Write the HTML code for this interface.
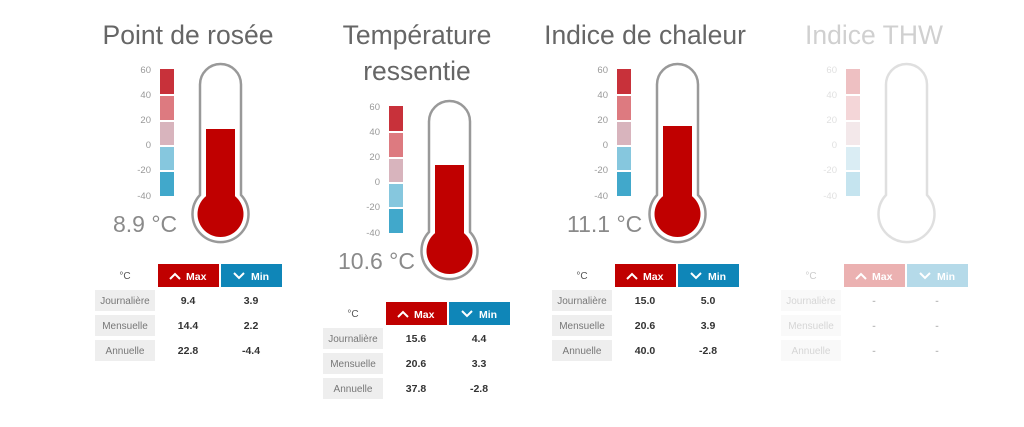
<!DOCTYPE html>
<html><head><meta charset="utf-8"><style>
html,body{margin:0;padding:0;background:#fff;}
svg{display:block;font-family:"Liberation Sans",Arial,sans-serif;}
.t{fill:#666;font-size:26.5px;text-anchor:middle;}
.ax{fill:#999;font-size:9.5px;text-anchor:end;}
.val{fill:#8a8a8a;font-size:23px;}
.lb{fill:#777;font-size:10px;text-anchor:middle;}
.num{fill:#333;font-size:10.5px;font-weight:bold;text-anchor:middle;}
.hd{fill:#fff;font-size:10.5px;font-weight:bold;}
.cu{fill:#555;font-size:10px;text-anchor:middle;}
</style></head><body>
<svg width="1024" height="427" viewBox="0 0 1024 427">

<!-- Panel 1 -->
<g>
<text class="t" x="188" y="44">Point de rosée</text>
<rect x="160" y="69" width="14" height="25" fill="#c8313a"/>
<rect x="160" y="96" width="14" height="24" fill="#dd7a80"/>
<rect x="160" y="122" width="14" height="23" fill="#d8b4bd"/>
<rect x="160" y="147" width="14" height="23" fill="#86c7de"/>
<rect x="160" y="172" width="14" height="24" fill="#41a8cb"/>
<text class="ax" x="151" y="73">60</text><text class="ax" x="151" y="98">40</text><text class="ax" x="151" y="123">20</text><text class="ax" x="151" y="148">0</text><text class="ax" x="151" y="173">-20</text><text class="ax" x="151" y="199">-40</text>
<path d="M200,84.5 A20.5,20.5 0 0 1 241,84.5 L241,195 A28,28 0 1 1 200,195 Z" fill="#fff" stroke="#999" stroke-width="2.5"/>
<rect x="206" y="129" width="29" height="90" fill="#c00000"/>
<circle cx="220.5" cy="214" r="23" fill="#c00000"/>
<text class="val" x="113" y="232">8.9 °C</text>
<text class="cu" x="125" y="279">°C</text>
<rect x="158" y="264" width="61" height="23" fill="#c00000"/>
<path d="M170,279 l5,-5 l5,5" stroke="#fff" stroke-width="2" fill="none"/>
<text class="hd" x="186" y="280">Max</text>
<rect x="221" y="264" width="61" height="23" fill="#0f86b8"/>
<path d="M234,273 l5,5 l5,-5" stroke="#fff" stroke-width="2" fill="none"/>
<text class="hd" x="251" y="280">Min</text>
<rect x="95" y="290" width="60" height="21" fill="#eee"/>
<rect x="95" y="315" width="60" height="21" fill="#eee"/>
<rect x="95" y="340" width="60" height="21" fill="#eee"/>
<text class="lb" x="125" y="304">Journalière</text><text class="lb" x="125" y="329">Mensuelle</text><text class="lb" x="125" y="354">Annuelle</text>
<text class="num" x="188" y="304">9.4</text><text class="num" x="251" y="304">3.9</text>
<text class="num" x="188" y="329">14.4</text><text class="num" x="251" y="329">2.2</text>
<text class="num" x="188" y="354">22.8</text><text class="num" x="251" y="354">-4.4</text>
</g>

<!-- Panel 2 -->
<g>
<text class="t" x="417" y="44">Température</text>
<text class="t" x="417" y="80">ressentie</text>
<g transform="translate(229,37)">
<rect x="160" y="69" width="14" height="25" fill="#c8313a"/>
<rect x="160" y="96" width="14" height="24" fill="#dd7a80"/>
<rect x="160" y="122" width="14" height="23" fill="#d8b4bd"/>
<rect x="160" y="147" width="14" height="23" fill="#86c7de"/>
<rect x="160" y="172" width="14" height="24" fill="#41a8cb"/>
<text class="ax" x="151" y="73">60</text><text class="ax" x="151" y="98">40</text><text class="ax" x="151" y="123">20</text><text class="ax" x="151" y="148">0</text><text class="ax" x="151" y="173">-20</text><text class="ax" x="151" y="199">-40</text>
<path d="M200,84.5 A20.5,20.5 0 0 1 241,84.5 L241,195 A28,28 0 1 1 200,195 Z" fill="#fff" stroke="#999" stroke-width="2.5"/>
<rect x="206" y="128" width="29" height="90" fill="#c00000"/>
<circle cx="220.5" cy="214" r="23" fill="#c00000"/>
<text class="val" x="109" y="232">10.6 °C</text>
</g>
<g transform="translate(228,38)">
<text class="cu" x="125" y="279">°C</text>
<rect x="158" y="264" width="61" height="23" fill="#c00000"/>
<path d="M170,279 l5,-5 l5,5" stroke="#fff" stroke-width="2" fill="none"/>
<text class="hd" x="186" y="280">Max</text>
<rect x="221" y="264" width="61" height="23" fill="#0f86b8"/>
<path d="M234,273 l5,5 l5,-5" stroke="#fff" stroke-width="2" fill="none"/>
<text class="hd" x="251" y="280">Min</text>
<rect x="95" y="290" width="60" height="21" fill="#eee"/>
<rect x="95" y="315" width="60" height="21" fill="#eee"/>
<rect x="95" y="340" width="60" height="21" fill="#eee"/>
<text class="lb" x="125" y="304">Journalière</text><text class="lb" x="125" y="329">Mensuelle</text><text class="lb" x="125" y="354">Annuelle</text>
<text class="num" x="188" y="304">15.6</text><text class="num" x="251" y="304">4.4</text>
<text class="num" x="188" y="329">20.6</text><text class="num" x="251" y="329">3.3</text>
<text class="num" x="188" y="354">37.8</text><text class="num" x="251" y="354">-2.8</text>
</g>
</g>

<!-- Panel 3 -->
<g transform="translate(457,0)">
<text class="t" x="188" y="44">Indice de chaleur</text>
<rect x="160" y="69" width="14" height="25" fill="#c8313a"/>
<rect x="160" y="96" width="14" height="24" fill="#dd7a80"/>
<rect x="160" y="122" width="14" height="23" fill="#d8b4bd"/>
<rect x="160" y="147" width="14" height="23" fill="#86c7de"/>
<rect x="160" y="172" width="14" height="24" fill="#41a8cb"/>
<text class="ax" x="151" y="73">60</text><text class="ax" x="151" y="98">40</text><text class="ax" x="151" y="123">20</text><text class="ax" x="151" y="148">0</text><text class="ax" x="151" y="173">-20</text><text class="ax" x="151" y="199">-40</text>
<path d="M200,84.5 A20.5,20.5 0 0 1 241,84.5 L241,195 A28,28 0 1 1 200,195 Z" fill="#fff" stroke="#999" stroke-width="2.5"/>
<rect x="206" y="126" width="29" height="90" fill="#c00000"/>
<circle cx="220.5" cy="214" r="23" fill="#c00000"/>
<text class="val" x="110" y="232">11.1 °C</text>
<text class="cu" x="125" y="279">°C</text>
<rect x="158" y="264" width="61" height="23" fill="#c00000"/>
<path d="M170,279 l5,-5 l5,5" stroke="#fff" stroke-width="2" fill="none"/>
<text class="hd" x="186" y="280">Max</text>
<rect x="221" y="264" width="61" height="23" fill="#0f86b8"/>
<path d="M234,273 l5,5 l5,-5" stroke="#fff" stroke-width="2" fill="none"/>
<text class="hd" x="251" y="280">Min</text>
<rect x="95" y="290" width="60" height="21" fill="#eee"/>
<rect x="95" y="315" width="60" height="21" fill="#eee"/>
<rect x="95" y="340" width="60" height="21" fill="#eee"/>
<text class="lb" x="125" y="304">Journalière</text><text class="lb" x="125" y="329">Mensuelle</text><text class="lb" x="125" y="354">Annuelle</text>
<text class="num" x="188" y="304">15.0</text><text class="num" x="251" y="304">5.0</text>
<text class="num" x="188" y="329">20.6</text><text class="num" x="251" y="329">3.9</text>
<text class="num" x="188" y="354">40.0</text><text class="num" x="251" y="354">-2.8</text>
</g>

<!-- Panel 4 (faded) -->
<g transform="translate(686,0)" opacity="0.3">
<text class="t" x="188" y="44">Indice THW</text>
<rect x="160" y="69" width="14" height="25" fill="#c8313a"/>
<rect x="160" y="96" width="14" height="24" fill="#dd7a80"/>
<rect x="160" y="122" width="14" height="23" fill="#d8b4bd"/>
<rect x="160" y="147" width="14" height="23" fill="#86c7de"/>
<rect x="160" y="172" width="14" height="24" fill="#41a8cb"/>
<text class="ax" x="151" y="73">60</text><text class="ax" x="151" y="98">40</text><text class="ax" x="151" y="123">20</text><text class="ax" x="151" y="148">0</text><text class="ax" x="151" y="173">-20</text><text class="ax" x="151" y="199">-40</text>
<path d="M200,84.5 A20.5,20.5 0 0 1 241,84.5 L241,195 A28,28 0 1 1 200,195 Z" fill="#fff" stroke="#999" stroke-width="2.5"/>
<text class="cu" x="125" y="279">°C</text>
<rect x="158" y="264" width="61" height="23" fill="#c00000"/>
<path d="M170,279 l5,-5 l5,5" stroke="#fff" stroke-width="2" fill="none"/>
<text class="hd" x="186" y="280">Max</text>
<rect x="221" y="264" width="61" height="23" fill="#0f86b8"/>
<path d="M234,273 l5,5 l5,-5" stroke="#fff" stroke-width="2" fill="none"/>
<text class="hd" x="251" y="280">Min</text>
<rect x="95" y="290" width="60" height="21" fill="#eee"/>
<rect x="95" y="315" width="60" height="21" fill="#eee"/>
<rect x="95" y="340" width="60" height="21" fill="#eee"/>
<text class="lb" x="125" y="304">Journalière</text><text class="lb" x="125" y="329">Mensuelle</text><text class="lb" x="125" y="354">Annuelle</text>
<text class="num" x="188" y="304">-</text><text class="num" x="251" y="304">-</text>
<text class="num" x="188" y="329">-</text><text class="num" x="251" y="329">-</text>
<text class="num" x="188" y="354">-</text><text class="num" x="251" y="354">-</text>
</g>
</svg>
</body></html>
